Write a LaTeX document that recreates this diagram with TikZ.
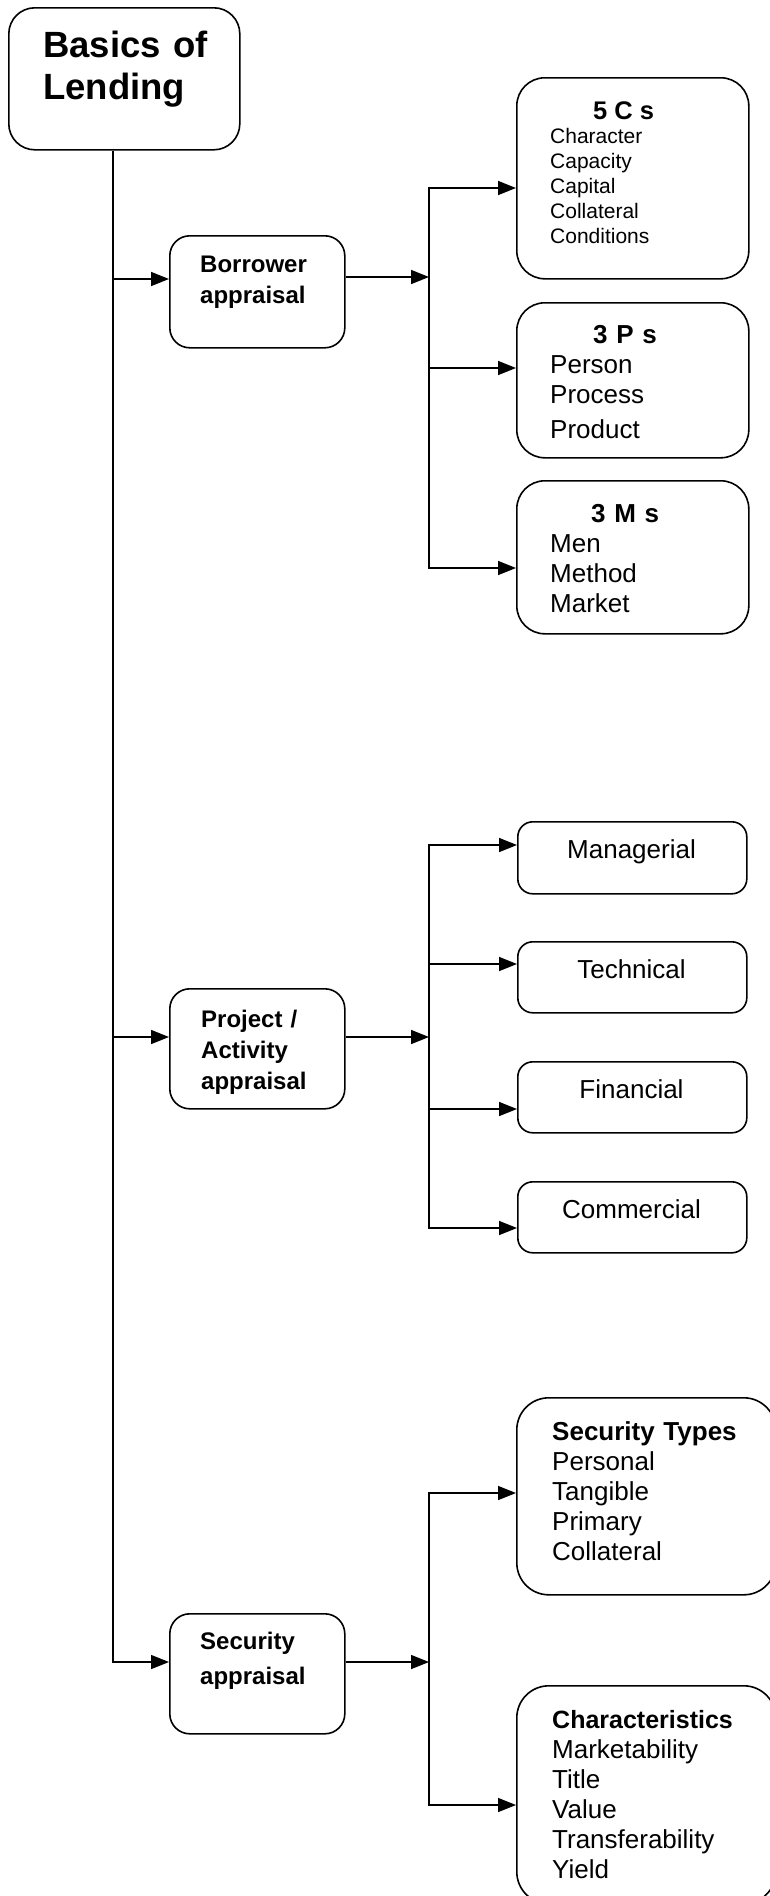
\documentclass[tikz,border=0pt]{standalone}
\usepackage{fontspec}
\setmainfont{Liberation Sans}
\usetikzlibrary{arrows.meta}

\tikzset{
  lending box/.style={draw, line width=1.6pt, rounded corners=20pt,
    inner sep=0pt, anchor=north west},
  lending text/.style={anchor=base west, inner sep=0pt, text width=#1,
    align=left},
  lending text/.default=215pt,
  lending label/.style={anchor=base, inner sep=0pt,
    font=\fontsize{26}{30}\selectfont},
  lending line/.style={line width=1.6pt, line cap=rect},
  lending arrow/.style={line width=1.6pt,
    -{Triangle[length=18pt,width=14pt]}},
}

\begin{document}
\begin{tikzpicture}[x=1pt,y=-1pt]
  \clip (0,0) rectangle (770,1896);
  \fill[white] (0,0) rectangle (770,1896);

  % root
  \node (basicsBox) [lending box, rounded corners=26pt, minimum width=231,
    minimum height=142] at (8,7) {};
  \node (basicsText) [lending text,
    font=\bfseries\fontsize{36.5}{42}\selectfont] at (43,57)
    {Basics of\\Lending};

  % appraisal boxes
  \node (borrowerBox) [lending box, minimum width=175, minimum height=112]
    at (169,235) {};
  \node (borrowerText) [lending text=140pt,
    font=\bfseries\fontsize{24}{31}\selectfont] at (200,272)
    {Borrower\\appraisal};
  \node (projectBox) [lending box, minimum width=175, minimum height=120]
    at (169,988) {};
  \node (projectText) [lending text=140pt,
    font=\bfseries\fontsize{24}{31}\selectfont] at (201,1027)
    {Project /\\Activity\\appraisal};
  \node (securityBox) [lending box, minimum width=175, minimum height=120]
    at (169,1613) {};
  \node (securityText) [lending text=140pt,
    font=\bfseries\fontsize{24}{35}\selectfont] at (200,1649)
    {Security\\appraisal};

  % borrower appraisal
  \node (fiveCsBox) [lending box, rounded corners=28pt, minimum width=232,
    minimum height=201] at (516,77) {};
  \node (fiveCsText) [lending text, font=\fontsize{21}{24.8}\selectfont]
    at (550,119) {\hspace*{43pt}{\bfseries\fontsize{25.5}{24.8}\selectfont
    5 C s}\\Character\\Capacity\\Capital\\Collateral\\Conditions};
  \node (threePsBox) [lending box, rounded corners=28pt, minimum width=232,
    minimum height=155] at (516,302) {};
  \node (threePsText) [lending text, font=\fontsize{26}{30}\selectfont]
    at (550,343) {\hspace*{43pt}\textbf{3 P s}\\Person\\Process\\[5pt]Product};
  \node (threeMsBox) [lending box, rounded corners=28pt, minimum width=232,
    minimum height=153] at (516,480) {};
  \node (threeMsText) [lending text, font=\fontsize{26}{30}\selectfont]
    at (550,522) {\hspace*{41pt}\textbf{3 M s}\\Men\\Method\\Market};

  % project appraisal
  \node (managerialBox) [lending box, rounded corners=15pt, minimum width=229,
    minimum height=72] at (517,821) {};
  \node (managerialText) [lending label] at (631.5,858) {Managerial};
  \node (technicalBox) [lending box, rounded corners=15pt, minimum width=229,
    minimum height=71] at (517,941) {};
  \node (technicalText) [lending label] at (631.5,978) {Technical};
  \node (financialBox) [lending box, rounded corners=15pt, minimum width=229,
    minimum height=71] at (517,1061) {};
  \node (financialText) [lending label] at (631.5,1098) {Financial};
  \node (commercialBox) [lending box, rounded corners=15pt, minimum width=229,
    minimum height=71] at (517,1181) {};
  \node (commercialText) [lending label] at (631.5,1218) {Commercial};

  % security appraisal
  \node (secTypesBox) [lending box, rounded corners=32pt, minimum width=259,
    minimum height=197] at (516,1397) {};
  \node (secTypesText) [lending text, font=\fontsize{26}{30}\selectfont]
    at (552,1440)
    {\textbf{Security Types}\\Personal\\Tangible\\Primary\\Collateral};
  \node (charBox) [lending box, rounded corners=32pt, minimum width=259,
    minimum height=218] at (516,1685) {};
  \node (charText) [lending text, font=\fontsize{26}{30}\selectfont]
    at (552,1728) {{\bfseries\fontsize{25}{30}\selectfont Characteristics}\\
    Marketability\\Title\\Value\\Transferability\\Yield};

  % trunk
  \coordinate (trunkEnd) at (113,1662);
  \coordinate (borrowerIn) at (113,279);
  \coordinate (projectIn) at (113,1037);
  \draw[lending arrow] (trunkEnd |- basicsBox.south) -- (trunkEnd)
    -- (trunkEnd -| securityBox.west);
  \draw[lending arrow] (borrowerIn) -- (borrowerIn -| borrowerBox.west);
  \draw[lending arrow] (projectIn) -- (projectIn -| projectBox.west);

  % branches
  \coordinate (borrowerOut) at (429,277);
  \coordinate (fiveCsIn) at (429,188);
  \coordinate (threePsIn) at (429,368);
  \coordinate (threeMsIn) at (429,568);
  \draw[lending arrow] (borrowerOut -| borrowerBox.east) -- (borrowerOut);
  \draw[lending line] (fiveCsIn) -- (threeMsIn);
  \draw[lending arrow] (fiveCsIn) -- (fiveCsIn -| fiveCsBox.west);
  \draw[lending arrow] (threePsIn) -- (threePsIn -| threePsBox.west);
  \draw[lending arrow] (threeMsIn) -- (threeMsIn -| threeMsBox.west);

  \coordinate (projectOut) at (429,1037);
  \coordinate (managerialIn) at (429,845);
  \coordinate (technicalIn) at (429,964);
  \coordinate (financialIn) at (429,1109);
  \coordinate (commercialIn) at (429,1228);
  \draw[lending arrow] (projectOut -| projectBox.east) -- (projectOut);
  \draw[lending line] (managerialIn) -- (commercialIn);
  \draw[lending arrow] (managerialIn) -- (managerialIn -| managerialBox.west);
  \draw[lending arrow] (technicalIn) -- (technicalIn -| technicalBox.west);
  \draw[lending arrow] (financialIn) -- (financialIn -| financialBox.west);
  \draw[lending arrow] (commercialIn) -- (commercialIn -| commercialBox.west);

  \coordinate (securityOut) at (429,1662);
  \coordinate (secTypesIn) at (429,1493);
  \coordinate (charIn) at (429,1805);
  \draw[lending arrow] (securityOut -| securityBox.east) -- (securityOut);
  \draw[lending line] (secTypesIn) -- (charIn);
  \draw[lending arrow] (secTypesIn) -- (secTypesIn -| secTypesBox.west);
  \draw[lending arrow] (charIn) -- (charIn -| charBox.west);
\end{tikzpicture}
\end{document}
